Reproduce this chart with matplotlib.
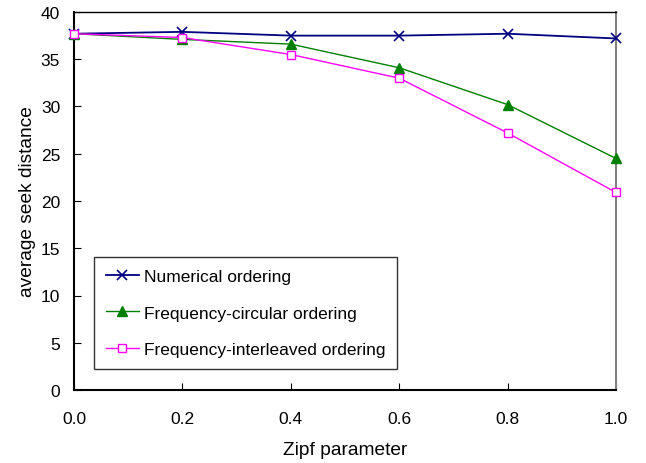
import matplotlib
matplotlib.use("Agg")
import matplotlib.pyplot as plt

plt.rcParams['font.family'] = ['Liberation Sans', 'DejaVu Sans']

# data
zipf = [0.0, 0.2, 0.4, 0.6, 0.8, 1.0]
numerical = [37.7, 37.9, 37.5, 37.5, 37.7, 37.2]
freq_circular = [37.7, 37.1, 36.6, 34.1, 30.2, 24.5]
freq_interleaved = [37.7, 37.3, 35.5, 33.0, 27.2, 20.9]

fig = plt.figure(figsize=(6.46, 4.64), dpi=100)
ax = fig.add_axes([74 / 646, 1 - 391 / 464, (616 - 74) / 646, (391 - 13) / 464])

ax.plot(zipf, numerical, color='#000080', marker='x', markersize=7,
        markeredgewidth=1.2, linewidth=1.3, label="Numerical ordering",
        clip_on=False, zorder=3)
ax.plot(zipf, freq_circular, color='#008000', marker='^', markersize=7,
        linewidth=1.0, label="Frequency-circular ordering",
        clip_on=False, zorder=3)
ax.plot(zipf, freq_interleaved, color='#FF00FF', marker='s', markersize=6,
        markerfacecolor='white', markeredgewidth=1.0, linewidth=1.0,
        label="Frequency-interleaved ordering", clip_on=False, zorder=3)

ax.set_xlim(0, 1.0)
ax.set_ylim(0, 40)
ax.set_xticks(zipf)
ax.set_xticklabels(["%.1f" % v for v in zipf])
ax.set_yticks(range(0, 45, 5))
ax.tick_params(axis='x', direction='in', length=5, pad=15, labelsize=12.5)
ax.tick_params(axis='y', direction='in', length=5, pad=10, labelsize=12.5)
for s in ['left', 'bottom']:
    ax.spines[s].set_linewidth(1.5)
ax.spines['top'].set_linewidth(1.0)
ax.spines['right'].set_color('#808080')
ax.spines['right'].set_linewidth(1.5)

ax.set_xlabel("Zipf parameter", fontsize=13.8, labelpad=11)
ax.set_ylabel("average seek distance", fontsize=13.8, labelpad=3.5)

leg = ax.legend(loc='lower left', bbox_to_anchor=(20 / 542, 21 / 378),
                borderaxespad=0, fontsize=12.5, frameon=True, fancybox=False,
                edgecolor='black', labelspacing=1.24, handlelength=1.9,
                handletextpad=0.3, borderpad=0.68)
leg.get_frame().set_linewidth(1.0)

fig.savefig("out.png", dpi=100)
